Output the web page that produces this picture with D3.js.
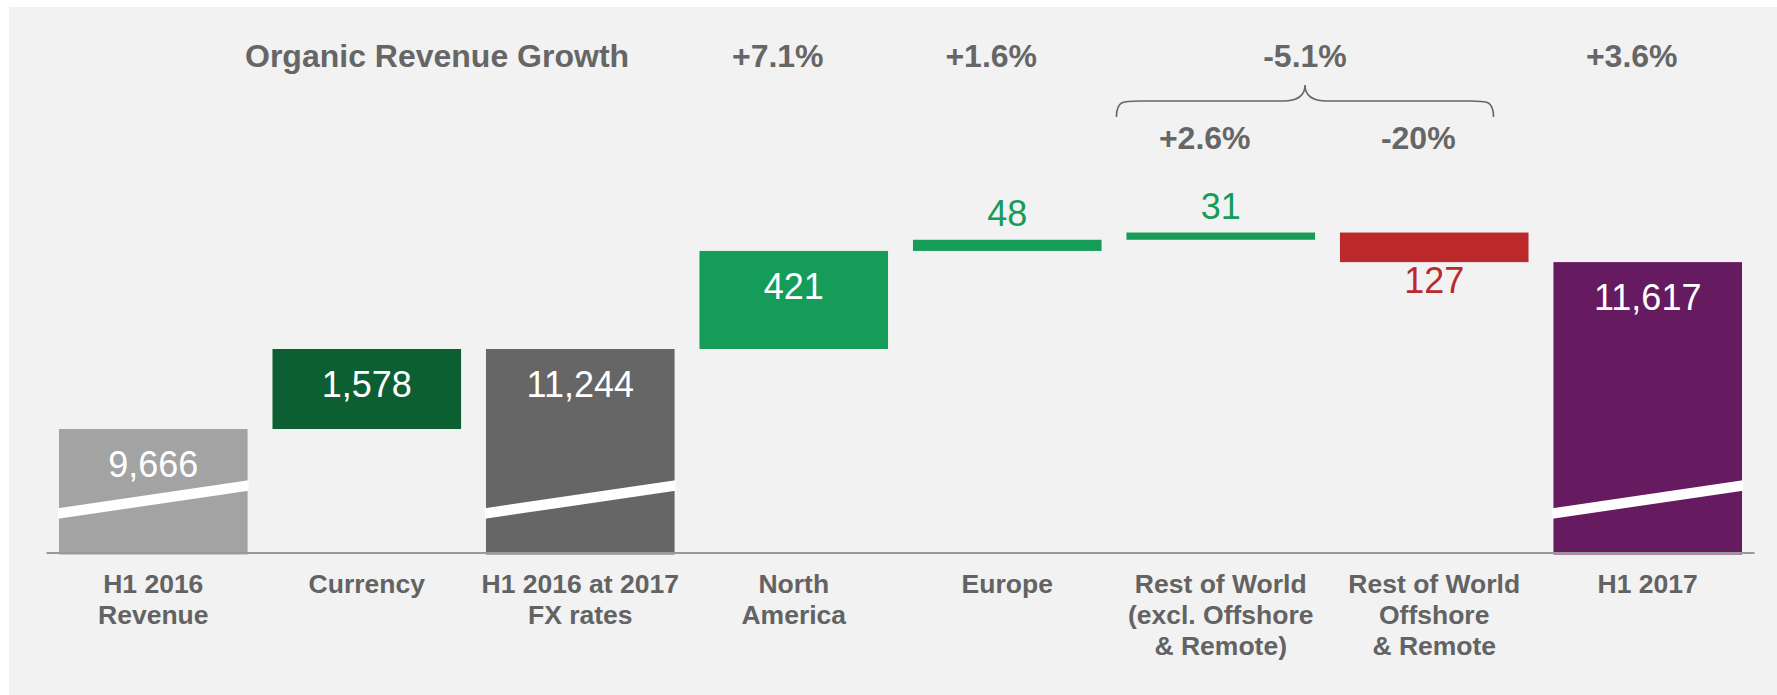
<!DOCTYPE html>
<html>
<head>
<meta charset="utf-8">
<script src="https://cdn.jsdelivr.net/npm/d3@7"></script>
<style>
  html, body { margin: 0; padding: 0; background: #ffffff; }
  svg { display: block; font-family: "Liberation Sans", Arial, sans-serif; }
</style>
</head>
<body>
<svg id="chart" width="1777" height="695"></svg>
<script>
// Revenue bridge, H1 2016 -> H1 2017 (values in millions)
const categories = [
  ["H1 2016", "Revenue"],
  ["Currency"],
  ["H1 2016 at 2017", "FX rates"],
  ["North", "America"],
  ["Europe"],
  ["Rest of World", "(excl. Offshore", "& Remote)"],
  ["Rest of World", "Offshore", "& Remote"],
  ["H1 2017"]
];
// "total" bars show the running sum, "delta" bars show a change
const barKinds = ["total", "delta", "total", "delta", "delta", "delta", "delta", "total"];
const changes  = [9666, 1578, 0, 421, 48, 31, -127, 0];
const barColors = ["#a3a3a3", "#0c5e33", "#666666", "#159c59", "#159c59", "#159c59", "#bc292b", "#661a5f"];

// organic growth rates shown above the bars
const growthTop    = [[3, "+7.1%"], [4, "+1.6%"], [7, "+3.6%"]];
const growthGroup  = { from: 5, to: 6, label: "-5.1%" };
const growthSecond = [[5, "+2.6%"], [6, "-20%"]];

// running totals -> bar extents
let running = 0;
const bars = categories.map((lines, i) => {
  let start, end;
  if (barKinds[i] === "total") {
    running += changes[i];
    start = 0; end = running;
  } else {
    start = running; running += changes[i]; end = running;
  }
  return { i, lines, kind: barKinds[i], start, end, value: barKinds[i] === "total" ? end : changes[i], color: barColors[i] };
});

const svg = d3.select("#chart");
const W = 1777, H = 695;

// panel background
svg.append("rect").attr("x", 9).attr("y", 7).attr("width", W - 9).attr("height", H - 7).attr("fill", "#f2f2f2");

const x = d3.scaleBand()
  .domain(d3.range(categories.length))
  .range([46.5, 1754.5])
  .paddingInner(0.1167)
  .paddingOuter(0.0585);

// broken value axis: the span below the break is compressed
const axisBreak = 8000;
const y = d3.scaleLinear()
  .domain([0, axisBreak, 11244, 11800])
  .range([553, 513.5, 349, 219.5]);

const fmt = d3.format(",");
const bw = x.bandwidth();

// bars
svg.append("g").selectAll("rect")
  .data(bars)
  .join("rect")
  .attr("x", d => x(d.i))
  .attr("width", bw)
  .attr("y", d => y(Math.max(d.start, d.end)))
  .attr("height", d => (d.kind === "total" ? y(0) + 1.5 : y(Math.min(d.start, d.end))) - y(Math.max(d.start, d.end)))
  .attr("fill", d => d.color);

// axis break slashes on the total bars
const slashRise = 28, slashThick = 10.5;
svg.append("g").selectAll("path")
  .data(bars.filter(d => d.kind === "total"))
  .join("path")
  .attr("fill", "#ffffff")
  .attr("d", d => {
    const x0 = x(d.i) - 1, x1 = x(d.i) + bw + 1;
    const c = y(axisBreak);
    return `M${x0},${c - slashThick / 2}L${x1},${c - slashRise - slashThick / 2}` +
           `L${x1},${c - slashRise + slashThick / 2}L${x0},${c + slashThick / 2}Z`;
  });

// baseline
svg.append("line")
  .attr("x1", x.range()[0]).attr("x2", x.range()[1])
  .attr("y1", y(0)).attr("y2", y(0))
  .attr("stroke", "#999999").attr("stroke-width", 2);

// value labels: inside tall bars, above small gains, below losses
const insideMin = 400;
svg.append("g").selectAll("text")
  .data(bars)
  .join("text")
  .attr("x", d => x(d.i) + bw / 2)
  .attr("y", d => {
    const top = y(Math.max(d.start, d.end));
    const bottom = y(Math.min(d.start, d.end));
    if (d.kind === "total" || d.value >= insideMin) return top + 48;
    if (d.value < 0) return bottom + 31;
    return top - 14;
  })
  .attr("text-anchor", "middle")
  .attr("font-size", 36)
  .attr("fill", d => {
    if (d.kind === "total" || d.value >= insideMin) return "#ffffff";
    return d.value < 0 ? "#bc292b" : "#159c59";
  })
  .text(d => fmt(Math.abs(d.value)));

// category labels
const catG = svg.append("g").attr("fill", "#636363").attr("font-size", 26.5).attr("font-weight", "bold");
bars.forEach(d => {
  const t = catG.append("text").attr("text-anchor", "middle");
  d.lines.forEach((ln, k) => {
    t.append("tspan").attr("x", x(d.i) + bw / 2).attr("y", 593 + k * 31).text(ln);
  });
});

// growth header
const hdr = svg.append("g").attr("fill", "#666666").attr("font-size", 32).attr("font-weight", "bold");
hdr.append("text").attr("x", 245).attr("y", 67).text("Organic Revenue Growth");

const pctShift = -16;
growthTop.forEach(([i, lab]) => {
  hdr.append("text").attr("x", x(i) + bw / 2 + pctShift).attr("y", 67).attr("text-anchor", "middle").text(lab);
});
growthSecond.forEach(([i, lab]) => {
  hdr.append("text").attr("x", x(i) + bw / 2 + pctShift).attr("y", 149).attr("text-anchor", "middle").text(lab);
});

// brace grouping the two Rest of World pieces
const bx0 = x(growthGroup.from) - 10;
const bx1 = x(growthGroup.to) + bw - 35;
const bc = (bx0 + bx1) / 2;
hdr.append("text").attr("x", bc).attr("y", 67).attr("text-anchor", "middle").text(growthGroup.label);

const yEnd = 117, yLine = 101, yTip = 85, r = 22;
const brace = `M${bx0},${yEnd} C${bx0},${yLine - 2} ${bx0 + 8},${yLine} ${bx0 + r + 10},${yLine}` +
  ` L${bc - r},${yLine} C${bc - 6},${yLine} ${bc},${yLine - 6} ${bc},${yTip}` +
  ` C${bc},${yLine - 6} ${bc + 6},${yLine} ${bc + r},${yLine}` +
  ` L${bx1 - r - 10},${yLine} C${bx1 - 8},${yLine} ${bx1},${yLine - 2} ${bx1},${yEnd}`;
svg.append("path").attr("d", brace).attr("fill", "none").attr("stroke", "#666666").attr("stroke-width", 1.6);
</script>
</body>
</html>
